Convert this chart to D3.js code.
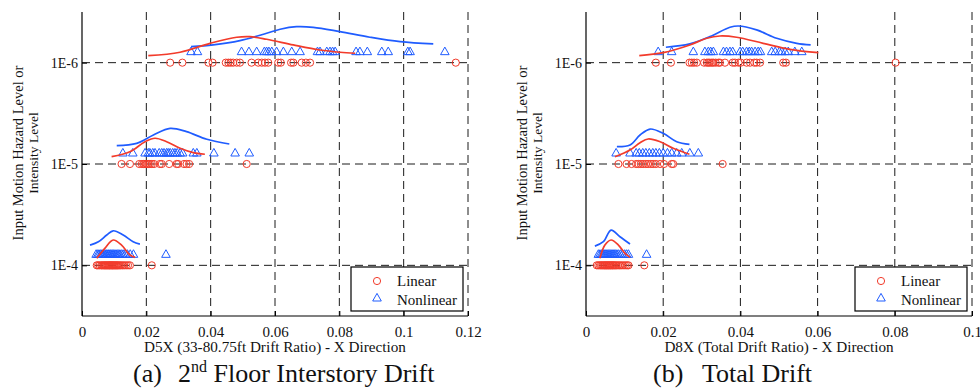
<!DOCTYPE html>
<html>
<head>
<meta charset="utf-8">
<script src="https://cdn.jsdelivr.net/npm/d3@7"></script>
<style>
  body { margin: 0; background: #fff; }
  svg { display: block; font-family: "Liberation Serif", "Times New Roman", serif; }
  text { white-space: pre; }
</style>
</head>
<body>
<svg id="chart" width="980" height="391"></svg>
<script>
// Hazard levels, top to bottom
const levels = ["1E-6", "1E-5", "1E-4"];
const xTicksA = [0, 0.02, 0.04, 0.06, 0.08, 0.1, 0.12];
const xTicksB = [0, 0.02, 0.04, 0.06, 0.08, 0.1];
const seriesNames = ["Linear", "Nonlinear"];

// (a) D5X interstory drift ratio, per hazard level
const linearA_6 = [0.0274, 0.0312, 0.0393, 0.0406, 0.0447, 0.0455, 0.0462, 0.0470, 0.0481, 0.0491, 0.0527, 0.0548, 0.0559, 0.0569, 0.0579, 0.0610, 0.0618, 0.0650, 0.0657, 0.0683, 0.0696, 0.0709, 0.1162];
const nonlinearA_6 = [0.0339, 0.0359, 0.0496, 0.0519, 0.0543, 0.0567, 0.0574, 0.0581, 0.0590, 0.0605, 0.0626, 0.0652, 0.0678, 0.0732, 0.0740, 0.0761, 0.0771, 0.0779, 0.0787, 0.0852, 0.0864, 0.0887, 0.0932, 0.0952, 0.1013, 0.1020, 0.1128];
const linearA_5 = [0.0123, 0.0149, 0.0178, 0.0186, 0.0191, 0.0196, 0.0201, 0.0206, 0.0211, 0.0217, 0.0224, 0.0242, 0.0248, 0.0271, 0.0294, 0.0299, 0.0317, 0.0325, 0.0333, 0.0512];
const nonlinearA_5 = [0.0127, 0.0158, 0.0196, 0.0206, 0.0211, 0.0220, 0.0227, 0.0240, 0.0248, 0.0255, 0.0263, 0.0268, 0.0274, 0.0282, 0.0289, 0.0296, 0.0305, 0.0313, 0.0346, 0.0357, 0.0410, 0.0476, 0.0520];
const linearA_4 = [0.0046, 0.0050, 0.0055, 0.0060, 0.0063, 0.0067, 0.0070, 0.0073, 0.0076, 0.0079, 0.0082, 0.0085, 0.0087, 0.0090, 0.0093, 0.0095, 0.0098, 0.0101, 0.0104, 0.0107, 0.0110, 0.0113, 0.0117, 0.0121, 0.0126, 0.0131, 0.0137, 0.0143, 0.0149, 0.0217];
const nonlinearA_4 = [0.0044, 0.0049, 0.0053, 0.0058, 0.0062, 0.0066, 0.0070, 0.0074, 0.0077, 0.0081, 0.0084, 0.0088, 0.0091, 0.0095, 0.0098, 0.0102, 0.0106, 0.0110, 0.0114, 0.0118, 0.0123, 0.0128, 0.0134, 0.0141, 0.0150, 0.0160, 0.0261];

// Fitted distribution curves for (a): [drift, height in level spacings]
const fitLinearA_6 = [[0.0206, 0.069], [0.0305, 0.103], [0.0398, 0.191], [0.0481, 0.251], [0.0522, 0.257], [0.0574, 0.231], [0.0657, 0.175], [0.0740, 0.125], [0.0802, 0.103], [0.0849, 0.093]];
const fitNonlinearA_6 = [[0.0339, 0.158], [0.0408, 0.175], [0.0491, 0.217], [0.0574, 0.290], [0.0616, 0.330], [0.0667, 0.355], [0.0719, 0.349], [0.0802, 0.306], [0.0895, 0.251], [0.0989, 0.207], [0.1092, 0.185]];
const fitLinearA_5 = [[0.0092, 0.072], [0.0149, 0.121], [0.0196, 0.220], [0.0227, 0.254], [0.0263, 0.220], [0.0305, 0.155], [0.0346, 0.112], [0.0382, 0.096]];
const fitNonlinearA_5 = [[0.0108, 0.181], [0.0170, 0.204], [0.0222, 0.286], [0.0274, 0.352], [0.0325, 0.319], [0.0388, 0.244], [0.0458, 0.197]];
const fitLinearA_4 = [[0.0046, 0.069], [0.0071, 0.168], [0.0097, 0.250], [0.0123, 0.200], [0.0149, 0.102], [0.0165, 0.079]];
const fitNonlinearA_4 = [[0.0025, 0.200], [0.0051, 0.233], [0.0077, 0.299], [0.0097, 0.341], [0.0128, 0.299], [0.0159, 0.233], [0.0180, 0.210]];

// (b) D8X total drift ratio, per hazard level
const linearB_6 = [0.0181, 0.0220, 0.0268, 0.0274, 0.0280, 0.0287, 0.0306, 0.0313, 0.0317, 0.0321, 0.0326, 0.0330, 0.0336, 0.0343, 0.0347, 0.0360, 0.0380, 0.0386, 0.0395, 0.0401, 0.0416, 0.0425, 0.0436, 0.0442, 0.0451, 0.0511, 0.0518, 0.0802];
const nonlinearB_6 = [0.0187, 0.0222, 0.0278, 0.0308, 0.0317, 0.0323, 0.0330, 0.0356, 0.0364, 0.0373, 0.0380, 0.0399, 0.0406, 0.0416, 0.0423, 0.0429, 0.0438, 0.0446, 0.0452, 0.0481, 0.0490, 0.0501, 0.0507, 0.0516, 0.0524, 0.0541, 0.0559];
const linearB_5 = [0.0084, 0.0105, 0.0118, 0.0130, 0.0136, 0.0142, 0.0148, 0.0155, 0.0161, 0.0168, 0.0174, 0.0181, 0.0192, 0.0202, 0.0222, 0.0226, 0.0354];
const nonlinearB_5 = [0.0078, 0.0114, 0.0130, 0.0138, 0.0147, 0.0155, 0.0164, 0.0173, 0.0181, 0.0190, 0.0200, 0.0211, 0.0222, 0.0235, 0.0248, 0.0269, 0.0291];
const linearB_4 = [0.0028, 0.0032, 0.0036, 0.0039, 0.0042, 0.0045, 0.0048, 0.0050, 0.0053, 0.0055, 0.0058, 0.0060, 0.0063, 0.0065, 0.0068, 0.0070, 0.0073, 0.0076, 0.0079, 0.0083, 0.0087, 0.0091, 0.0096, 0.0101, 0.0106, 0.0110, 0.0151];
const nonlinearB_4 = [0.0032, 0.0036, 0.0040, 0.0043, 0.0046, 0.0049, 0.0052, 0.0055, 0.0058, 0.0061, 0.0064, 0.0067, 0.0070, 0.0073, 0.0076, 0.0080, 0.0084, 0.0089, 0.0094, 0.0100, 0.0105, 0.0110, 0.0157];

// Fitted distribution curves for (b)
const fitLinearB_6 = [[0.0138, 0.069], [0.0200, 0.099], [0.0269, 0.175], [0.0313, 0.241], [0.0347, 0.263], [0.0390, 0.251], [0.0459, 0.191], [0.0528, 0.132], [0.0602, 0.099]];
const fitNonlinearB_6 = [[0.0207, 0.152], [0.0269, 0.185], [0.0321, 0.257], [0.0373, 0.349], [0.0395, 0.362], [0.0442, 0.323], [0.0494, 0.241], [0.0546, 0.191], [0.0582, 0.175]];
const fitLinearB_5 = [[0.0075, 0.072], [0.0114, 0.138], [0.0140, 0.210], [0.0161, 0.247], [0.0192, 0.220], [0.0226, 0.155], [0.0268, 0.096]];
const fitNonlinearB_5 = [[0.0080, 0.171], [0.0114, 0.188], [0.0140, 0.286], [0.0166, 0.345], [0.0200, 0.303], [0.0235, 0.220], [0.0268, 0.194]];
const fitLinearB_4 = [[0.0036, 0.069], [0.0049, 0.200], [0.0065, 0.250], [0.0084, 0.200], [0.0101, 0.118], [0.0114, 0.079]];
const fitNonlinearB_4 = [[0.0023, 0.190], [0.0045, 0.233], [0.0065, 0.348], [0.0088, 0.282], [0.0114, 0.210]];

const RED = "#f23b2b";
const BLUE = "#1f5cff";

const panels = [
  {
    left: 82, xTicks: xTicksA,
    xTitle: "D5X (33-80.75ft Drift Ratio) - X Direction",
    capLabel: "(a)", capText: ["2", "nd", " Floor Interstory Drift"], capLabelDx: 51, capTextDx: 96,
    linear: { "1E-6": linearA_6, "1E-5": linearA_5, "1E-4": linearA_4 },
    nonlinear: { "1E-6": nonlinearA_6, "1E-5": nonlinearA_5, "1E-4": nonlinearA_4 },
    fitLinear: { "1E-6": fitLinearA_6, "1E-5": fitLinearA_5, "1E-4": fitLinearA_4 },
    fitNonlinear: { "1E-6": fitNonlinearA_6, "1E-5": fitNonlinearA_5, "1E-4": fitNonlinearA_4 }
  },
  {
    left: 586, xTicks: xTicksB,
    xTitle: "D8X (Total Drift Ratio) - X Direction",
    capLabel: "(b)", capText: ["Total Drift"], capLabelDx: 67, capTextDx: 116,
    linear: { "1E-6": linearB_6, "1E-5": linearB_5, "1E-4": linearB_4 },
    nonlinear: { "1E-6": nonlinearB_6, "1E-5": nonlinearB_5, "1E-4": nonlinearB_4 },
    fitLinear: { "1E-6": fitLinearB_6, "1E-5": fitLinearB_5, "1E-4": fitLinearB_4 },
    fitNonlinear: { "1E-6": fitNonlinearB_6, "1E-5": fitNonlinearB_5, "1E-4": fitNonlinearB_4 }
  }
];

const svg = d3.select("#chart");
const W = 386, TOP = 12, BOTTOM = 316;
const triPath = "M0,-4.6L4.3,3L-4.3,3Z";
const TRI_LIFT = 11;
const INK = "#111";

panels.forEach(p => {
  const xMax = p.xTicks[p.xTicks.length - 1];
  const x = d3.scaleLinear().domain([0, xMax]).range([p.left, p.left + W]);
  const y = d3.scalePoint().domain(levels).range([TOP, BOTTOM]).padding(0.5);
  const step = y.step();
  const g = svg.append("g");

  // dashed grid
  g.selectAll("line.vgrid").data(p.xTicks.slice(1)).join("line")
    .attr("x1", d => x(d)).attr("x2", d => x(d))
    .attr("y1", TOP).attr("y2", BOTTOM)
    .attr("stroke", "#1a1a1a").attr("stroke-width", 1).attr("stroke-dasharray", "8,5");
  g.selectAll("line.hgrid").data(levels).join("line")
    .attr("x1", p.left).attr("x2", p.left + W)
    .attr("y1", d => y(d)).attr("y2", d => y(d))
    .attr("stroke", "#1a1a1a").attr("stroke-width", 1).attr("stroke-dasharray", "8,5");

  // axes
  const xAxis = d3.axisBottom(x).tickValues(p.xTicks).tickSize(-5).tickPadding(10)
    .tickFormat(d => d === 0 ? "0" : d3.format("~g")(d));
  const gx = g.append("g").attr("transform", `translate(0,${BOTTOM})`).call(xAxis);
  const yAxis = d3.axisLeft(y).tickSize(-5).tickPadding(4);
  const gy = g.append("g").attr("transform", `translate(${p.left},0)`).call(yAxis);
  [gx, gy].forEach(ax => {
    ax.select(".domain").attr("stroke", "#000").attr("stroke-width", 1.2)
      .attr("d", ax === gx ? `M${p.left},0H${p.left + W}` : `M0,${TOP}V${BOTTOM}`);
    ax.selectAll(".tick line").attr("stroke", "#000");
    ax.selectAll(".tick text").attr("fill", INK).style("font-family", "'Liberation Serif', serif");
  });
  gx.selectAll(".tick text").style("font-size", "15px");
  gy.selectAll(".tick text").style("font-size", "14px");

  // markers
  levels.forEach(lv => {
    g.selectAll(null).data(p.nonlinear[lv]).join("path")
      .attr("d", triPath)
      .attr("transform", d => `translate(${x(d)},${y(lv) - TRI_LIFT})`)
      .attr("fill", "none").attr("stroke", BLUE).attr("stroke-width", 1);
    g.selectAll(null).data(p.linear[lv]).join("circle")
      .attr("cx", d => x(d)).attr("cy", y(lv)).attr("r", 3.6)
      .attr("fill", "none").attr("stroke", RED).attr("stroke-width", 1);
  });

  // fitted curves
  levels.forEach(lv => {
    const line = d3.line().x(d => x(d[0])).y(d => y(lv) - d[1] * step).curve(d3.curveCatmullRom);
    g.append("path").attr("d", line(p.fitNonlinear[lv]))
      .attr("fill", "none").attr("stroke", BLUE).attr("stroke-width", 1.7);
    g.append("path").attr("d", line(p.fitLinear[lv]))
      .attr("fill", "none").attr("stroke", RED).attr("stroke-width", 1.7);
  });

  // y title
  const yt = g.append("g").attr("transform", `translate(${p.left - 59},153) rotate(-90)`);
  yt.append("text").attr("text-anchor", "middle").attr("y", 0)
    .style("font-size", "14.5px").attr("fill", INK).text("Input Motion Hazard Level or");
  yt.append("text").attr("text-anchor", "middle").attr("y", 15)
    .style("font-size", "13.5px").attr("fill", INK).text("Intensity Level");

  // x title
  g.append("text").attr("x", p.left + 193).attr("y", 352).attr("text-anchor", "middle")
    .style("font-size", "15.2px").attr("fill", INK).text(p.xTitle);

  // caption
  g.append("text").attr("x", p.left + p.capLabelDx).attr("y", 382)
    .style("font-size", "26px").attr("fill", INK).text(p.capLabel);
  const cap = g.append("text").attr("x", p.left + p.capTextDx).attr("y", 382)
    .style("font-size", "26px").attr("fill", INK);
  cap.append("tspan").text(p.capText[0]);
  if (p.capText.length > 1) {
    cap.append("tspan").attr("dy", -10).style("font-size", "16px").text(p.capText[1]);
    cap.append("tspan").attr("dy", 10).text(p.capText[2]);
  }

  // legend
  const lg = g.append("g").attr("transform", `translate(${p.left + 269},267)`);
  lg.append("rect").attr("width", 112).attr("height", 44)
    .attr("fill", "#fff").attr("stroke", "#000").attr("stroke-width", 1.2);
  lg.append("circle").attr("cx", 26).attr("cy", 14).attr("r", 3.6)
    .attr("fill", "none").attr("stroke", RED);
  lg.append("path").attr("d", triPath).attr("transform", "translate(26,31)")
    .attr("fill", "none").attr("stroke", BLUE);
  seriesNames.forEach((s, i) => {
    lg.append("text").attr("x", 46).attr("y", 19 + i * 19)
      .style("font-size", "15px").attr("fill", INK).text(s);
  });
});
</script>
</body>
</html>
